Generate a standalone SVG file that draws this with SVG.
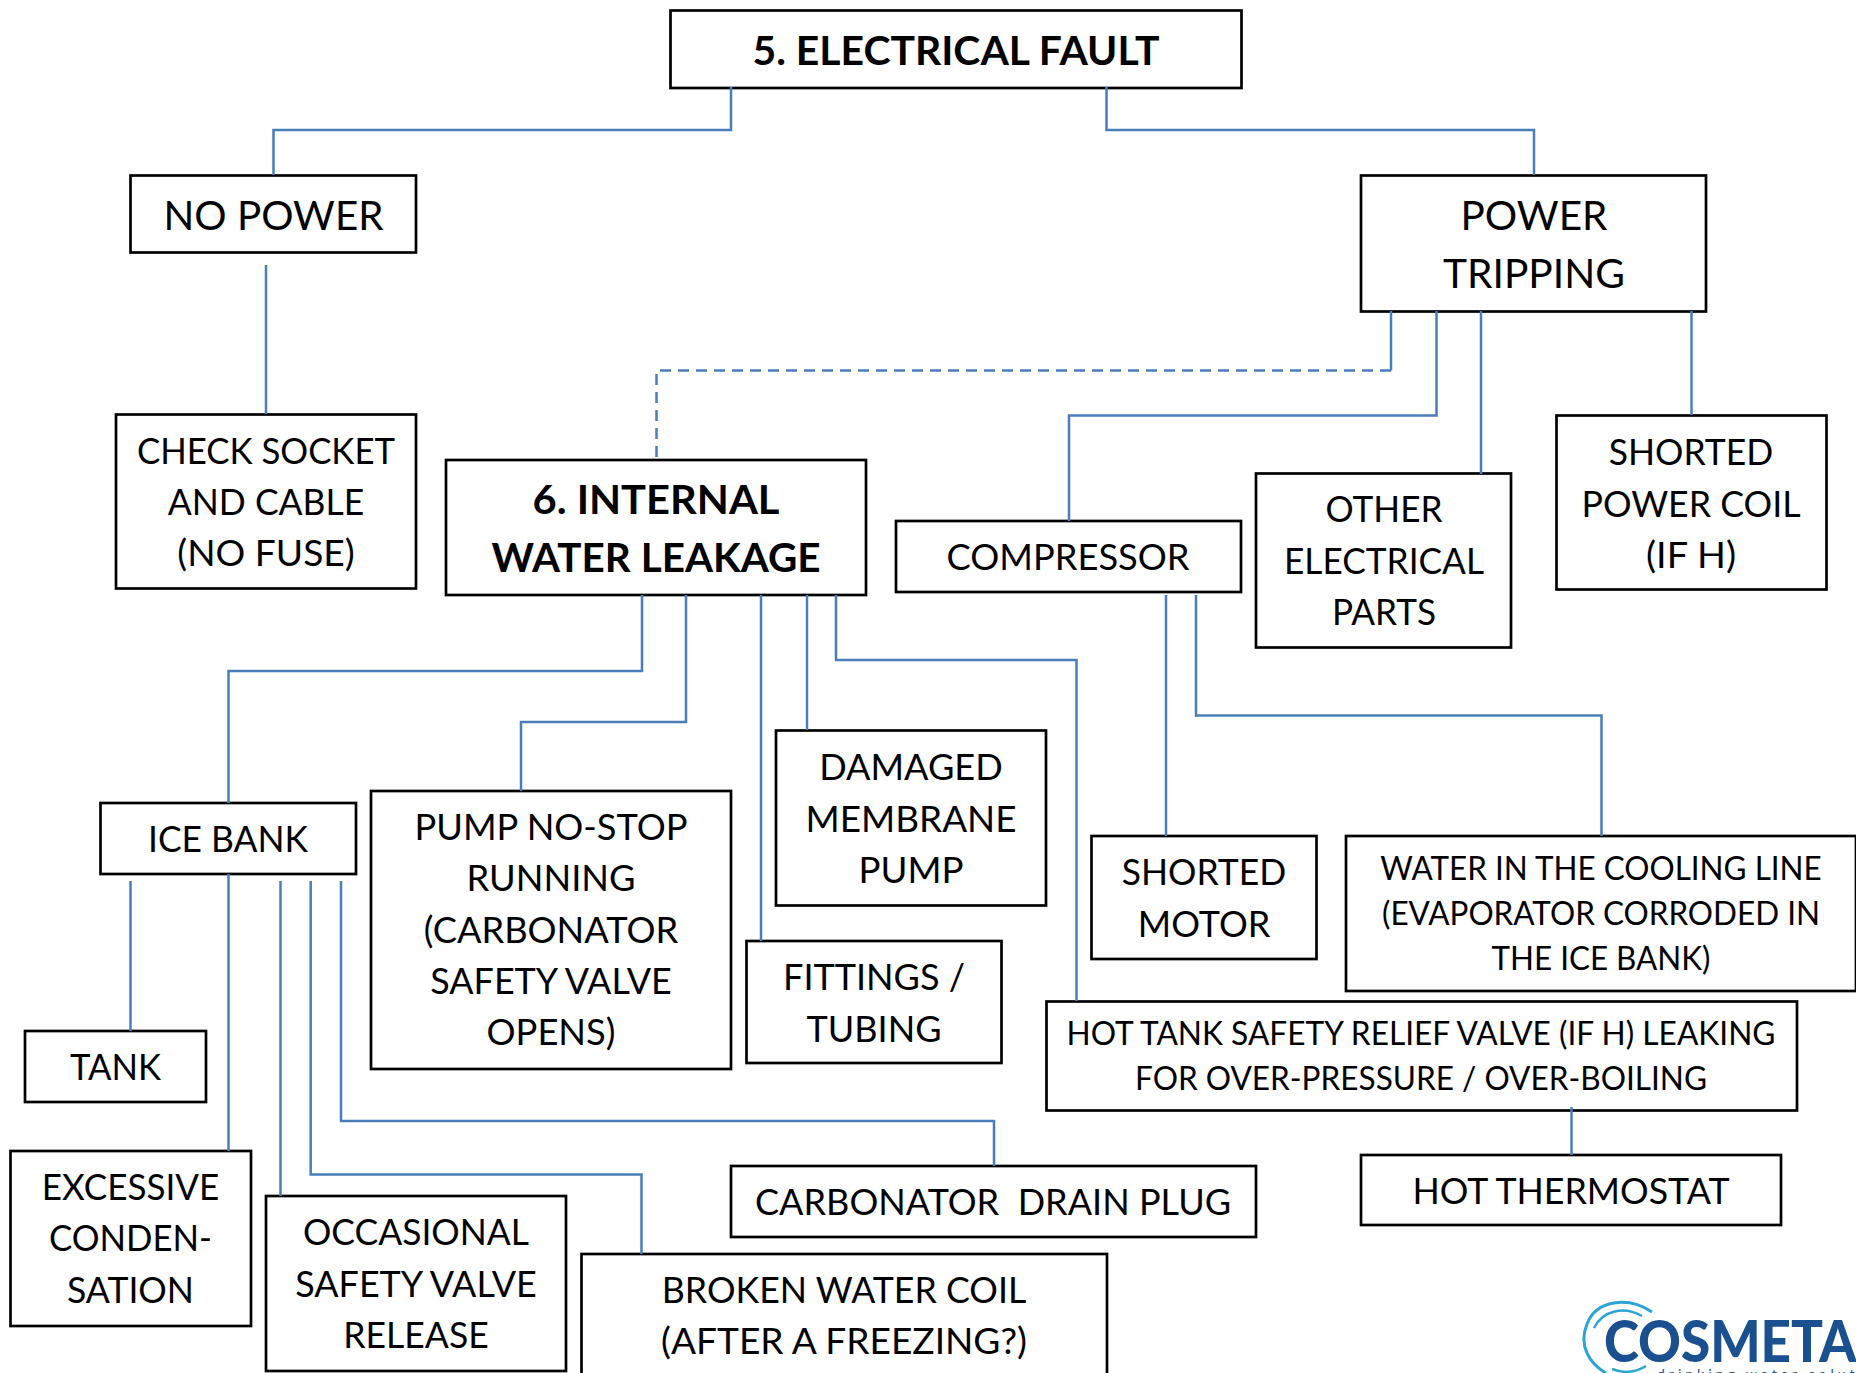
<svg xmlns="http://www.w3.org/2000/svg" width="1856" height="1373" viewBox="0 0 1856 1373">
<style>
rect{fill:#fff;stroke:#000;stroke-width:2.700}
text{font-family:Lato,"Liberation Sans",sans-serif;font-size:36px;fill:#000;text-anchor:middle}
.b{font-weight:700;font-size:41px}
.l{font-size:41px}
.s{font-size:32px}
#connectors path{fill:none;stroke:#4a7ebb;stroke-width:2.500}
#connectors .d{stroke-dasharray:11 7}
</style>
<rect x="0" y="0" width="1856" height="1373" style="fill:#fff;stroke:none"/>
<g id="n-title"><rect x="670.500" y="10.500" width="571" height="77.500"/><text class="b" x="956" y="65" textLength="407" lengthAdjust="spacingAndGlyphs">5. ELECTRICAL FAULT</text></g>
<g id="n-nopower"><rect x="130.500" y="175.500" width="285.500" height="77"/><text class="l" x="273.500" y="230" textLength="220" lengthAdjust="spacingAndGlyphs">NO POWER</text></g>
<g id="n-tripping"><rect x="1361" y="175.500" width="345" height="136"/><text class="l" x="1534" y="230" textLength="147" lengthAdjust="spacingAndGlyphs">POWER</text><text class="l" x="1534" y="288" textLength="182" lengthAdjust="spacingAndGlyphs">TRIPPING</text></g>
<g id="n-socket"><rect x="116" y="414.500" width="300" height="174"/><text x="266" y="464" textLength="258" lengthAdjust="spacingAndGlyphs">CHECK SOCKET</text><text x="266" y="515" textLength="196.500" lengthAdjust="spacingAndGlyphs">AND CABLE</text><text x="266" y="566" textLength="177.500" lengthAdjust="spacingAndGlyphs">(NO FUSE)</text></g>
<g id="n-leak"><rect x="446" y="460" width="420" height="135"/><text class="b" x="656" y="514" textLength="247" lengthAdjust="spacingAndGlyphs">6. INTERNAL</text><text class="b" x="656" y="572" textLength="329" lengthAdjust="spacingAndGlyphs">WATER LEAKAGE</text></g>
<g id="n-comp"><rect x="896" y="521" width="345" height="71"/><text x="1068" y="570" textLength="243" lengthAdjust="spacingAndGlyphs">COMPRESSOR</text></g>
<g id="n-other"><rect x="1256" y="473.500" width="255" height="174"/><text x="1384" y="522" textLength="117" lengthAdjust="spacingAndGlyphs">OTHER</text><text x="1384" y="574" textLength="200" lengthAdjust="spacingAndGlyphs">ELECTRICAL</text><text x="1384" y="625" textLength="104" lengthAdjust="spacingAndGlyphs">PARTS</text></g>
<g id="n-coil"><rect x="1556.500" y="415.500" width="270" height="174"/><text x="1691" y="465" textLength="164.500" lengthAdjust="spacingAndGlyphs">SHORTED</text><text x="1691" y="517" textLength="219" lengthAdjust="spacingAndGlyphs">POWER COIL</text><text x="1691" y="568" textLength="90" lengthAdjust="spacingAndGlyphs">(IF H)</text></g>
<g id="n-ice"><rect x="100.500" y="803" width="255.500" height="71"/><text x="228" y="852" textLength="160" lengthAdjust="spacingAndGlyphs">ICE BANK</text></g>
<g id="n-pump"><rect x="371" y="791" width="360" height="278"/><text x="551" y="840" textLength="273" lengthAdjust="spacingAndGlyphs">PUMP NO-STOP</text><text x="551" y="891" textLength="169" lengthAdjust="spacingAndGlyphs">RUNNING</text><text x="551" y="943" textLength="254.500" lengthAdjust="spacingAndGlyphs">(CARBONATOR</text><text x="551" y="994" textLength="241.500" lengthAdjust="spacingAndGlyphs">SAFETY VALVE</text><text x="551" y="1045" textLength="129" lengthAdjust="spacingAndGlyphs">OPENS)</text></g>
<g id="n-membrane"><rect x="776" y="730.500" width="270" height="175"/><text x="911" y="780" textLength="183.500" lengthAdjust="spacingAndGlyphs">DAMAGED</text><text x="911" y="832" textLength="211" lengthAdjust="spacingAndGlyphs">MEMBRANE</text><text x="911" y="883" textLength="105" lengthAdjust="spacingAndGlyphs">PUMP</text></g>
<g id="n-fittings"><rect x="746.500" y="941" width="255" height="122"/><text x="874" y="990" textLength="182" lengthAdjust="spacingAndGlyphs">FITTINGS /</text><text x="874" y="1042" textLength="135" lengthAdjust="spacingAndGlyphs">TUBING</text></g>
<g id="n-motor"><rect x="1091.500" y="836" width="225" height="123"/><text x="1204" y="885" textLength="164.500" lengthAdjust="spacingAndGlyphs">SHORTED</text><text x="1204" y="937" textLength="132.500" lengthAdjust="spacingAndGlyphs">MOTOR</text></g>
<g id="n-water"><rect x="1346" y="836" width="510" height="155"/><text class="s" x="1601" y="880" textLength="441.500" lengthAdjust="spacingAndGlyphs">WATER IN THE COOLING LINE</text><text class="s" x="1601" y="925" textLength="438" lengthAdjust="spacingAndGlyphs">(EVAPORATOR CORRODED IN</text><text class="s" x="1601" y="970" textLength="219" lengthAdjust="spacingAndGlyphs">THE ICE BANK)</text></g>
<g id="n-relief"><rect x="1046.500" y="1001.500" width="750.500" height="109"/><text class="s" x="1421" y="1045" textLength="709" lengthAdjust="spacingAndGlyphs">HOT TANK SAFETY RELIEF VALVE (IF H) LEAKING</text><text class="s" x="1421" y="1090" textLength="572" lengthAdjust="spacingAndGlyphs">FOR OVER-PRESSURE / OVER-BOILING</text></g>
<g id="n-tank"><rect x="25" y="1031" width="181" height="71"/><text x="115.500" y="1080" textLength="91" lengthAdjust="spacingAndGlyphs">TANK</text></g>
<g id="n-cond"><rect x="10.500" y="1151" width="240.500" height="175"/><text x="130.500" y="1200" textLength="177.500" lengthAdjust="spacingAndGlyphs">EXCESSIVE</text><text x="130.500" y="1251" textLength="163" lengthAdjust="spacingAndGlyphs">CONDEN-</text><text x="130.500" y="1303" textLength="127" lengthAdjust="spacingAndGlyphs">SATION</text></g>
<g id="n-safety"><rect x="266" y="1196" width="300" height="175"/><text x="416" y="1245" textLength="226" lengthAdjust="spacingAndGlyphs">OCCASIONAL</text><text x="416" y="1297" textLength="241.500" lengthAdjust="spacingAndGlyphs">SAFETY VALVE</text><text x="416" y="1348" textLength="145.500" lengthAdjust="spacingAndGlyphs">RELEASE</text></g>
<g id="n-broken"><rect x="581.500" y="1254" width="525.500" height="130"/><text x="844" y="1303" textLength="364.500" lengthAdjust="spacingAndGlyphs">BROKEN WATER COIL</text><text x="844" y="1354" textLength="366" lengthAdjust="spacingAndGlyphs">(AFTER A FREEZING?)</text></g>
<g id="n-plug"><rect x="731" y="1166" width="525" height="71"/><text x="993" y="1215" xml:space="preserve" textLength="476" lengthAdjust="spacingAndGlyphs">CARBONATOR  DRAIN PLUG</text></g>
<g id="n-thermo"><rect x="1361" y="1155" width="420" height="70"/><text x="1571" y="1204" textLength="317" lengthAdjust="spacingAndGlyphs">HOT THERMOSTAT</text></g>
<g id="connectors">
<path d="M731 87V130H273.500V175"/>
<path d="M1106.500 87V130H1534V175"/>
<path d="M266 265V414"/>
<path d="M1391 311V370.500"/>
<path class="d" d="M1391 370.500H656.500V460"/>
<path d="M1436.500 311V415.500H1069V521"/>
<path d="M1481 311V474"/>
<path d="M1691.500 311V415"/>
<path d="M642 595V671H228.500V803"/>
<path d="M686 595V722H521V791"/>
<path d="M761 595V941"/>
<path d="M807 595V730"/>
<path d="M836 595V660H1076.500V1001"/>
<path d="M1166 595V836"/>
<path d="M1196 595V715.500H1601.500V836"/>
<path d="M1571.500 1107V1155"/>
<path d="M130.500 881V1031"/>
<path d="M228.500 874V1151"/>
<path d="M280.500 881V1196"/>
<path d="M310.700 881V1174.500H641.500V1254"/>
<path d="M341 881V1121H994V1166"/>
</g>
<g id="logo">
<path d="M1652 1312C1628 1296 1596 1300 1587 1324C1578 1346 1590 1364 1606 1373" fill="none" stroke="#2aa5d6" stroke-width="3"/>
<path d="M1642 1316C1624 1306 1603 1310 1594 1328" fill="none" stroke="#2aa5d6" stroke-width="2.500"/>
<path d="M1612 1369Q1630 1376 1646 1366" fill="none" stroke="#2aa5d6" stroke-width="2.500"/>
<text x="1604" y="1362" textLength="280" lengthAdjust="spacingAndGlyphs" style="font-family:Lato,sans-serif;font-weight:900;font-size:58px;fill:#1a4f90;text-anchor:start">COSMETAL</text>
<text x="1657" y="1379" style="font-family:Lato,sans-serif;font-size:14px;letter-spacing:4px;fill:#1a4f90;text-anchor:start">drinking water solutions</text>
</g>
</svg>
